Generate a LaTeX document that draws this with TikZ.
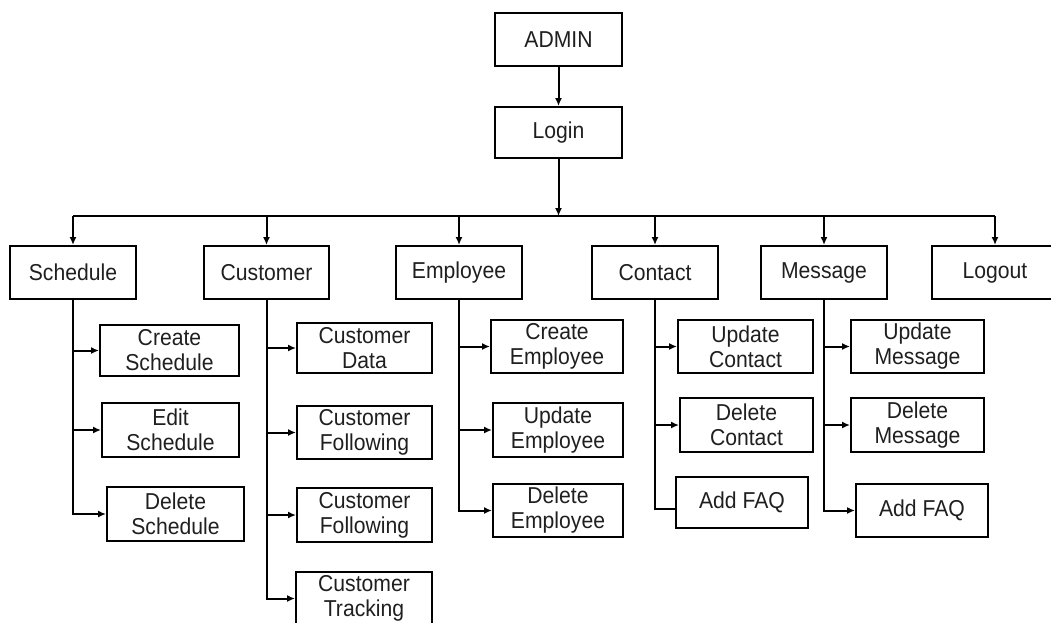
\documentclass[tikz,border=0pt]{standalone}
\usepackage{fontspec}
\setmainfont{Liberation Sans}[FakeStretch=0.92]
\usetikzlibrary{arrows.meta}
\begin{document}
\begin{tikzpicture}[x=1pt,y=-1pt,
  every node/.style={font=\fontsize{23}{25}\selectfont, text=black!88},
  box/.style={draw, line width=2pt, inner sep=0pt, align=center,
    minimum width=#1, minimum height=53pt},
  box/.default=126pt,
  link/.style={line width=2pt},
  arr/.style={link, -{Latex[length=8pt,width=7pt]}}]
\useasboundingbox (0,0) rectangle (1051,622);
\clip (0,0) rectangle (1051,622);

% top of the tree
\node[box=127pt] (admin) at (558.5,39.5) {ADMIN};
\node[box=127pt, minimum height=51pt] (login) at (558.5,132.5) {Login};
\coordinate (bus) at (558.5,216);

% main menu
\node[box] (sched) at (73,272.5) {Schedule};
\node[box=125pt] (cust) at (266.5,272.5) {Customer};
\node[box] (emp) at (459,272.5) {Employee};
\node[box] (cont) at (655,272.5) {Contact};
\node[box] (msg) at (824,272.5) {Message};
\node[box] (logout) at (995,272.5) {Logout};

% schedule items
\node[box=139pt, minimum height=51pt] (s1) at (169.5,350.5) {Create\\Schedule};
\node[box=137pt, minimum height=54pt] (s2) at (170.5,430) {Edit\\Schedule};
\node[box=137pt, minimum height=54pt] (s3) at (175.5,514) {Delete\\Schedule};

% customer items
\node[box=135pt, minimum height=50pt] (c1) at (364.5,348) {Customer\\Data};
\node[box=135pt] (c2) at (364.5,432.5) {Customer\\Following};
\node[box=135pt, minimum height=54pt] (c3) at (364.5,515) {Customer\\Following};
\node[box=136pt] (c4) at (364,598.5) {Customer\\Tracking};

% employee items
\node[box=132pt] (e1) at (557,346.5) {Create\\Employee};
\node[box=130pt, minimum height=54pt] (e2) at (558,430) {Update\\Employee};
\node[box=130pt] (e3) at (558,510.5) {Delete\\Employee};

% contact items
\node[box=135pt] (k1) at (745.5,346.5) {Update\\Contact};
\node[box=133pt, minimum height=54pt] (k2) at (746.5,425) {Delete\\Contact};
\node[box=132pt, minimum height=51pt] (k3) at (742,502.5) {Add FAQ};

% message items
\node[box=133pt] (m1) at (917.5,346.5) {Update\\Message};
\node[box=133pt, minimum height=54pt] (m2) at (917.5,425) {Delete\\Message};
\node[box=132pt] (m3) at (922,510.5) {Add FAQ};

% vertical spine
\draw[arr] (admin) -- (login);
\draw[arr] (login) -- (bus);
\draw[link] (sched.north |- bus) -- (logout.north |- bus);
\foreach \n in {sched,cust,emp,cont,msg,logout}
  \draw[arr] (\n.north |- bus) -- (\n.north);

% branches to sub items
\foreach \p/\c in {sched/s1,sched/s2,sched/s3,cust/c1,cust/c2,cust/c3,cust/c4,
                   emp/e1,emp/e2,emp/e3,cont/k1,cont/k2,msg/m1,msg/m2,msg/m3}
  \draw[arr] (\p.south) |- (\c.west);
\draw[link] (cont.south) |- ([yshift=-6.5pt]k3.west);
\end{tikzpicture}
\end{document}
